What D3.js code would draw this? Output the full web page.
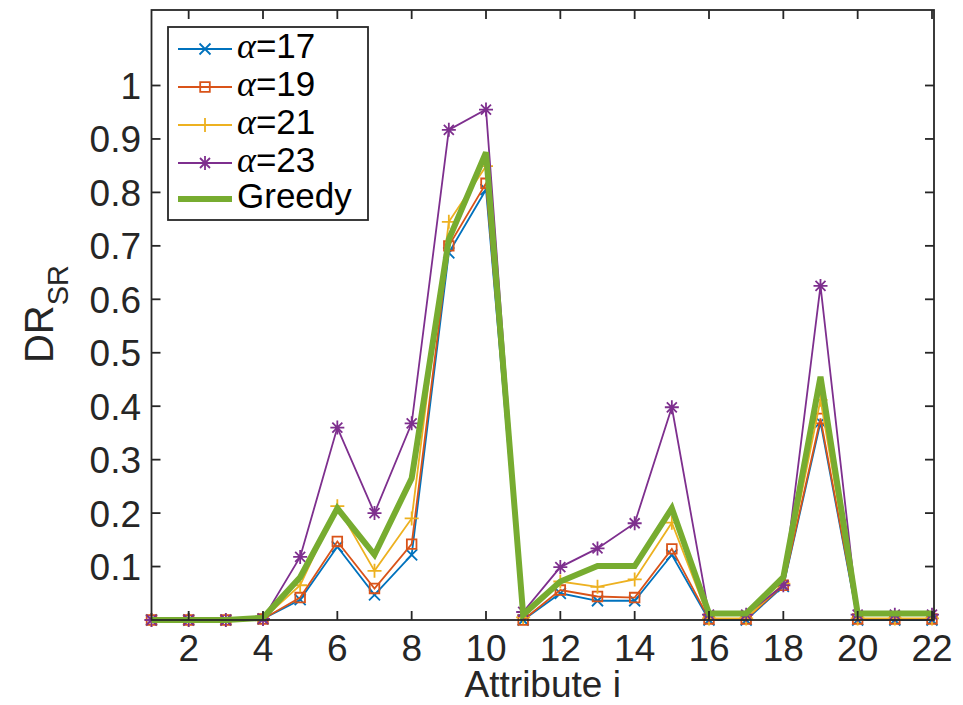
<!DOCTYPE html>
<html><head><meta charset="utf-8">
<script src="https://cdn.jsdelivr.net/npm/d3@7/dist/d3.min.js"></script>
<style>body{margin:0;background:#fff}</style>
</head><body>
<svg id="chart" width="963" height="705"></svg>
<script>
// ---- data ----
const attributes = [1,2,3,4,5,6,7,8,9,10,11,12,13,14,15,16,17,18,19,20,21,22];
const alpha17 = [0,0,0,0.002,0.038,0.137,0.047,0.122,0.687,0.805,0,0.05,0.036,0.036,0.122,0,0,0.063,0.37,0,0,0];
const alpha19 = [0,0,0,0.002,0.042,0.147,0.059,0.142,0.70,0.817,0,0.056,0.044,0.042,0.133,0.002,0.002,0.065,0.377,0.002,0.002,0.002];
const alpha21 = [0,0,0,0.002,0.065,0.213,0.092,0.19,0.745,0.849,0.005,0.072,0.062,0.076,0.182,0.003,0.003,0.068,0.412,0.003,0.003,0.003];
const alpha23 = [0,0,0,0.002,0.118,0.36,0.2,0.368,0.917,0.955,0.015,0.099,0.134,0.181,0.398,0.01,0.01,0.065,0.625,0.01,0.01,0.01];
const greedy  = [0,0,0,0.004,0.08,0.209,0.122,0.265,0.712,0.875,0.01,0.072,0.101,0.101,0.209,0.012,0.012,0.08,0.455,0.012,0.012,0.012];
const seriesLabels = ["17","19","21","23","Greedy"];
const xTicks = [2,4,6,8,10,12,14,16,18,20,22];
const yTicks = [0.1,0.2,0.3,0.4,0.5,0.6,0.7,0.8,0.9,1];
const yTickLabels = ["0.1","0.2","0.3","0.4","0.5","0.6","0.7","0.8","0.9","1"];

// ---- layout ----
const svg = d3.select("#chart");
const L = 151.5, R = 934, T = 10, B = 620;
const x = d3.scaleLinear().domain([1,22]).range([L, 932]);
const y = d3.scaleLinear().domain([0,1]).range([B, 85.5]);
const axisColor = "#262626";
const font = "'Liberation Sans', Arial, Helvetica, sans-serif";

const series = [
  {name:seriesLabels[0], values:alpha17, color:"#0072BD", marker:"x", width:1.8},
  {name:seriesLabels[1], values:alpha19, color:"#D95319", marker:"square", width:1.8},
  {name:seriesLabels[2], values:alpha21, color:"#EDB120", marker:"plus", width:1.8},
  {name:seriesLabels[3], values:alpha23, color:"#7E2F8E", marker:"star", width:1.8},
  {name:seriesLabels[4], values:greedy, color:"#77AC30", marker:null, width:6}
];

function markerPath(type){
  const p = d3.path();
  if(type==="x"){ const s=5.5; p.moveTo(-s,-s);p.lineTo(s,s);p.moveTo(-s,s);p.lineTo(s,-s); }
  else if(type==="square"){ const s=4.8; p.rect(-s,-s,2*s,2*s); }
  else if(type==="plus"){ const s=7; p.moveTo(-s,0);p.lineTo(s,0);p.moveTo(0,-s);p.lineTo(0,s); }
  else if(type==="star"){ const s=7, d=5; p.moveTo(-s,0);p.lineTo(s,0);p.moveTo(0,-s);p.lineTo(0,s);
    p.moveTo(-d,-d);p.lineTo(d,d);p.moveTo(-d,d);p.lineTo(d,-d); }
  return p.toString();
}

svg.append("rect").attr("width",963).attr("height",705).attr("fill","#fff");

// series
const line = d3.line().x((d,i)=>x(attributes[i])).y(d=>y(d));
const gData = svg.append("g");
series.forEach(s=>{
  gData.append("path").datum(s.values).attr("d",line)
    .attr("fill","none").attr("stroke",s.color).attr("stroke-width",s.width)
    .attr("stroke-linejoin","miter");
  if(s.marker){
    gData.selectAll(null).data(s.values).enter().append("path")
      .attr("transform",(d,i)=>`translate(${x(attributes[i])},${y(d)})`)
      .attr("d",markerPath(s.marker))
      .attr("fill","none").attr("stroke",s.color).attr("stroke-width",1.8);
  }
});

// frame
svg.append("rect").attr("x",L).attr("y",T).attr("width",R-L).attr("height",B-T)
  .attr("fill","none").attr("stroke",axisColor).attr("stroke-width",1.8);

// ticks
const tl = 9;
const gAx = svg.append("g").attr("stroke",axisColor).attr("stroke-width",1.8);
xTicks.forEach(t=>{
  gAx.append("line").attr("x1",x(t)).attr("x2",x(t)).attr("y1",B).attr("y2",B-tl);
  gAx.append("line").attr("x1",x(t)).attr("x2",x(t)).attr("y1",T).attr("y2",T+tl);
});
yTicks.forEach(t=>{
  gAx.append("line").attr("x1",L).attr("x2",L+tl).attr("y1",y(t)).attr("y2",y(t));
  gAx.append("line").attr("x1",R).attr("x2",R-tl).attr("y1",y(t)).attr("y2",y(t));
});

// tick labels
svg.append("g").selectAll("text").data(xTicks).enter().append("text")
  .attr("x",d=>x(d)).attr("y",661).attr("text-anchor","middle")
  .attr("font-family",font).attr("font-size",37).attr("fill",axisColor).text(d=>d);
svg.append("g").selectAll("text").data(yTicks).enter().append("text")
  .attr("x",141).attr("y",d=>y(d)+13.5).attr("text-anchor","end")
  .attr("font-family",font).attr("font-size",37).attr("fill",axisColor).text((d,i)=>yTickLabels[i]);

// axis labels
svg.append("text").attr("x",(L+R)/2).attr("y",697).attr("text-anchor","middle")
  .attr("font-family",font).attr("font-size",37).attr("fill",axisColor).text("Attribute i");
const yl = svg.append("text").attr("transform","translate(53,314) rotate(-90)")
  .attr("text-anchor","middle").attr("font-family",font).attr("fill",axisColor);
yl.append("tspan").attr("font-size",40).text("DR");
yl.append("tspan").attr("font-size",29).attr("dy",15).text("SR");

// legend
const lg = svg.append("g");
lg.append("rect").attr("x",168).attr("y",27).attr("width",200).attr("height",193)
  .attr("fill","#fff").attr("stroke",axisColor).attr("stroke-width",1.8);
const rowY = [49,87,125,163,199];
series.forEach((s,i)=>{
  const yy = rowY[i];
  lg.append("line").attr("x1",178).attr("x2",232).attr("y1",yy).attr("y2",yy)
    .attr("stroke",s.color).attr("stroke-width",s.width);
  if(s.marker){
    lg.append("path").attr("transform",`translate(205,${yy})`).attr("d",markerPath(s.marker))
      .attr("fill","none").attr("stroke",s.color).attr("stroke-width",1.8);
  }
  const t = lg.append("text").attr("x",237).attr("y",yy+8.5).attr("font-family",font)
    .attr("font-size",35).attr("fill","#000");
  if(i<4){
    t.append("tspan").attr("font-family","'Liberation Serif','Times New Roman',serif")
      .attr("font-style","italic").attr("font-size",36).text("α");
    t.append("tspan").text("="+s.name);
  } else {
    t.text(s.name);
  }
});
</script>
</body></html>
